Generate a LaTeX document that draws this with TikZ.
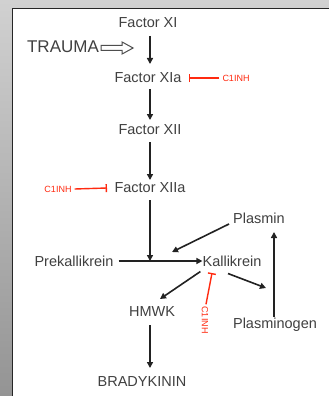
\documentclass[tikz,border=0pt]{standalone}
\usepackage{fontspec}
\setmainfont{Liberation Sans}
\usetikzlibrary{arrows.meta}
\definecolor{txt}{HTML}{404040}
\definecolor{arrc}{HTML}{222222}
\definecolor{inh}{HTML}{FF2A10}
\tikzset{
  lbl/.style={text=txt, font=\fontsize{14.5}{15}\selectfont, inner sep=0pt},
  inhl/.style={text=inh, font=\fontsize{9}{10}\selectfont, inner sep=0pt},
  act/.style={draw=arrc, line width=1.6pt, -{Triangle[length=6pt,width=6pt]}},
  blk/.style={draw=inh, line width=1.4pt, -{Bar[width=8pt]}},
}
\begin{document}
\begin{tikzpicture}[x=1pt,y=-1pt]
\useasboundingbox (0,0) rectangle (329,396);
\shade[top color=black!18, bottom color=black!42] (0,0) rectangle (329,396);
\fill[white] (12.5,8.5) rectangle (329,396);
\draw[black!85, line width=1.6pt] (12.5,396) -- (12.5,8.5) -- (329,8.5);

\node[lbl] (f11) at (148,23) {Factor XI};
\node[lbl, font=\fontsize{17}{18}\selectfont] (tr) at (63,47) {TRAUMA};
\node[lbl] (f11a) at (148,78) {Factor XIa};
\node[inhl] (i1) at (236,78) {C1INH};
\node[lbl] (f12) at (150,130) {Factor XII};
\node[lbl] (f12a) at (150,188) {Factor XIIa};
\node[inhl] (i2) at (58,189) {C1INH};
\node[lbl] (pk) at (74,261) {Prekallikrein};
\node[lbl] (kal) at (232,261) {Kallikrein};
\node[lbl] (pla) at (259,218) {Plasmin};
\node[lbl] (plg) at (275,325) {Plasminogen};
\node[lbl] (hm) at (152,312) {HMWK};
\node[lbl] (bk) at (142,382) {BRADYKININ};
\node[inhl, rotate=-90] (i3) at (205,320) {C1INH};
\coordinate (m) at (150,261);

\draw[act] (150,36) -- (150,64);
\draw[arrc!80, line width=1pt, line join=miter] (tr.east) ++(2,1) coordinate (t0)
  (t0) ++(0,-2.5) -- ++(21,0) -- ++(0,-3.5) -- ++(11,6) -- ++(-11,6) -- ++(0,-3.5) -- ++(-21,0) -- cycle;
\draw[act] (f11a.south -| 150,0) ++(0,6) -- (150,120);
\draw[act] (150,142) -- (150,180);
\draw[act] (150,200) -- (m);
\draw[act] (pk.east)+(5,0) -- (kal.west);
\draw[act] (pla.west)+(-4,6) -- (172,252);
\draw[act] (kal.south)+(-4,7) -- (266,288);
\draw[act] (kal.south west)+(-2,5) -- (160,299);
\draw[act] (plg.north -| 274,0) ++(0,-1) -- (274,232);
\draw[act] (hm.south)+(-2,8) -- (150,368);

\draw[blk] (i1.west)+(-3,0) -- (189,78);
\draw[blk] (i2.east)+(3,0) -- (107,188);
\draw[blk] (i3.west)+(1,-2) -- (212,273);
\end{tikzpicture}
\end{document}
